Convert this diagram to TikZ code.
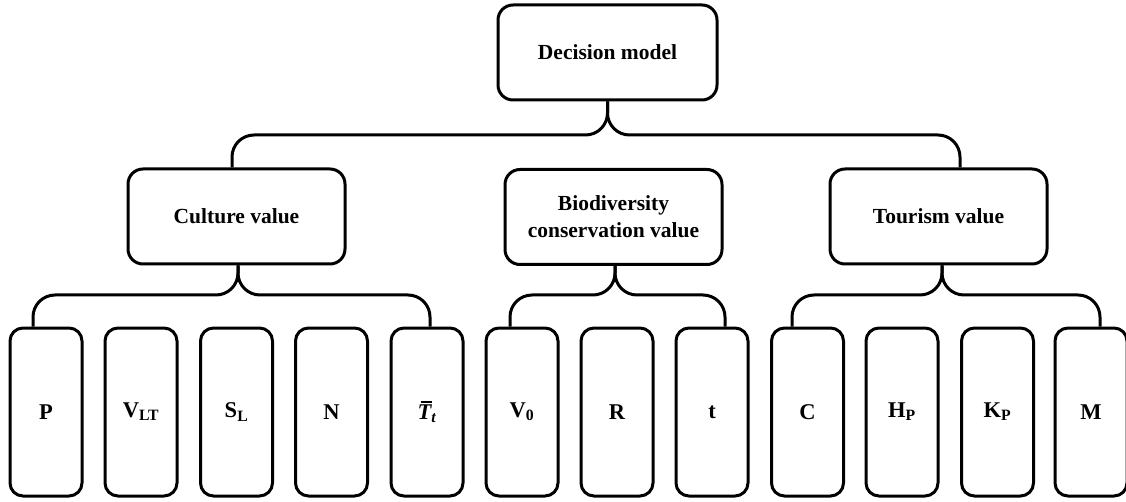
\documentclass[tikz,border=0pt]{standalone}
\usepackage{fontspec}
\setmainfont{Liberation Serif}
\usetikzlibrary{calc}
\newcommand{\tbar}{\makebox[0pt][l]{\kern3pt\rule[17pt]{11pt}{1.3pt}}{\bfseries\itshape T}\textsubscript{\bfseries\itshape t}}
\begin{document}
\begin{tikzpicture}[x=1pt,y=-1pt,
  box/.style={draw=black,line width=3pt,rounded corners=15pt,fill=white,
    font=\fontsize{21.5}{27}\selectfont\bfseries,align=center,inner sep=0pt},
  topbox/.style={box,minimum width=217pt,minimum height=95pt},
  leaf/.style={box,rounded corners=13pt,minimum width=72pt,minimum height=168pt,
    font=\fontsize{22.5}{27}\selectfont\bfseries},
  conn/.style={line width=3pt,rounded corners=22pt}]
\useasboundingbox (0,0) rectangle (1126,502);
% levels
\coordinate (ya) at (0,135);
\coordinate (yb) at (0,295);
% top
\node[topbox,minimum width=219pt] (root) at (607.5,52.5) {Decision model};
\node[topbox] (cult) at (236.5,216.5) {Culture value};
\node[topbox] (bio) at (613.5,217) {Biodiversity\\conservation value};
\node[topbox] (tour) at (938.5,216.5) {Tourism value};
% leaves
\node[leaf] (p) at (46,412) {P};
\node[leaf] (vlt) at (141,412) {V\textsubscript{LT}};
\node[leaf] (sl) at (236.5,412) {S\textsubscript{L}};
\node[leaf] (n) at (331.5,412) {N};
\node[leaf] (tbarnode) at (427,412) {\tbar};
\node[leaf] (v0) at (522,412) {V\textsubscript{0}};
\node[leaf] (r) at (617,412) {R};
\node[leaf] (tnode) at (712,412) {t};
\node[leaf] (c) at (807.5,412) {C};
\node[leaf] (hp) at (902,412) {H\textsubscript{P}};
\node[leaf] (kp) at (997.5,412) {K\textsubscript{P}};
\node[leaf] (m) at (1091,412) {M};
% connection points
\coordinate (rs) at (root.south);
\coordinate (cn) at ([xshift=-4.5pt]cult.north);
\coordinate (tn) at ([xshift=21.5pt]tour.north);
\coordinate (cs) at ([xshift=1.5pt]cult.south);
\coordinate (bs) at ([xshift=1.5pt]bio.south);
\coordinate (ts) at ([xshift=3.5pt]tour.south);
\coordinate (pn) at ([xshift=-13pt]p.north);
\coordinate (ttn) at ([xshift=3pt]tbarnode.north);
\coordinate (v0n) at ([xshift=-12pt]v0.north);
\coordinate (tnn) at ([xshift=13pt]tnode.north);
\coordinate (cnn) at ([xshift=-15.5pt]c.north);
\coordinate (mn) at ([xshift=9pt]m.north);
% connectors
\draw[conn] (rs) -- (rs |- ya) -- (cn |- ya) -- (cn);
\draw[conn] (rs) -- (rs |- ya) -- (tn |- ya) -- (tn);
\draw[conn] (cs) -- (cs |- yb) -- (pn |- yb) -- (pn);
\draw[conn] (cs) -- (cs |- yb) -- (ttn |- yb) -- (ttn);
\draw[conn] (bs) -- (bs |- yb) -- (v0n |- yb) -- (v0n);
\draw[conn] (bs) -- (bs |- yb) -- (tnn |- yb) -- (tnn);
\draw[conn] (ts) -- (ts |- yb) -- (cnn |- yb) -- (cnn);
\draw[conn] (ts) -- (ts |- yb) -- (mn |- yb) -- (mn);
\end{tikzpicture}
\end{document}
